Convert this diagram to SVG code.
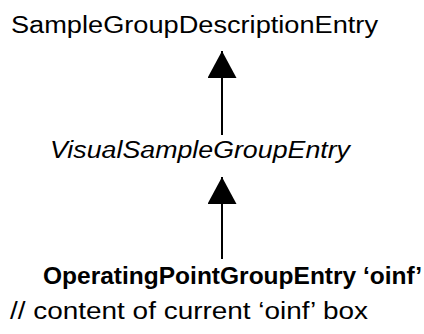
<svg xmlns="http://www.w3.org/2000/svg" width="424" height="334" viewBox="0 0 424 334">
<style>
text{font-family:"Liberation Sans",Arial,sans-serif;font-size:23px;fill:#000}
.conn line{stroke:#000;stroke-width:2}
</style>
<defs>
<marker id="tri" markerUnits="userSpaceOnUse" markerWidth="30" markerHeight="30" refX="27" refY="14.5" orient="auto">
<path d="M0,0 L27,14.5 L0,29 Z" fill="#000"/>
</marker>
</defs>
<rect width="424" height="334" fill="#fff"/>
<g class="conn">
<line x1="222" y1="135" x2="222" y2="51" marker-end="url(#tri)"/>
<line x1="222" y1="259" x2="222" y2="177" marker-end="url(#tri)"/>
</g>
<g id="sgde"><text x="11" y="33" textLength="367" lengthAdjust="spacingAndGlyphs">SampleGroupDescriptionEntry</text></g>
<g id="vsge"><text x="50" y="158" font-style="italic" textLength="300" lengthAdjust="spacingAndGlyphs">VisualSampleGroupEntry</text></g>
<g id="opge">
<text x="43" y="284" font-weight="bold" textLength="379" lengthAdjust="spacingAndGlyphs">OperatingPointGroupEntry ‘oinf’</text>
<text x="10" y="319" textLength="358" lengthAdjust="spacingAndGlyphs">// content of current ‘oinf’ box</text>
</g>
</svg>
